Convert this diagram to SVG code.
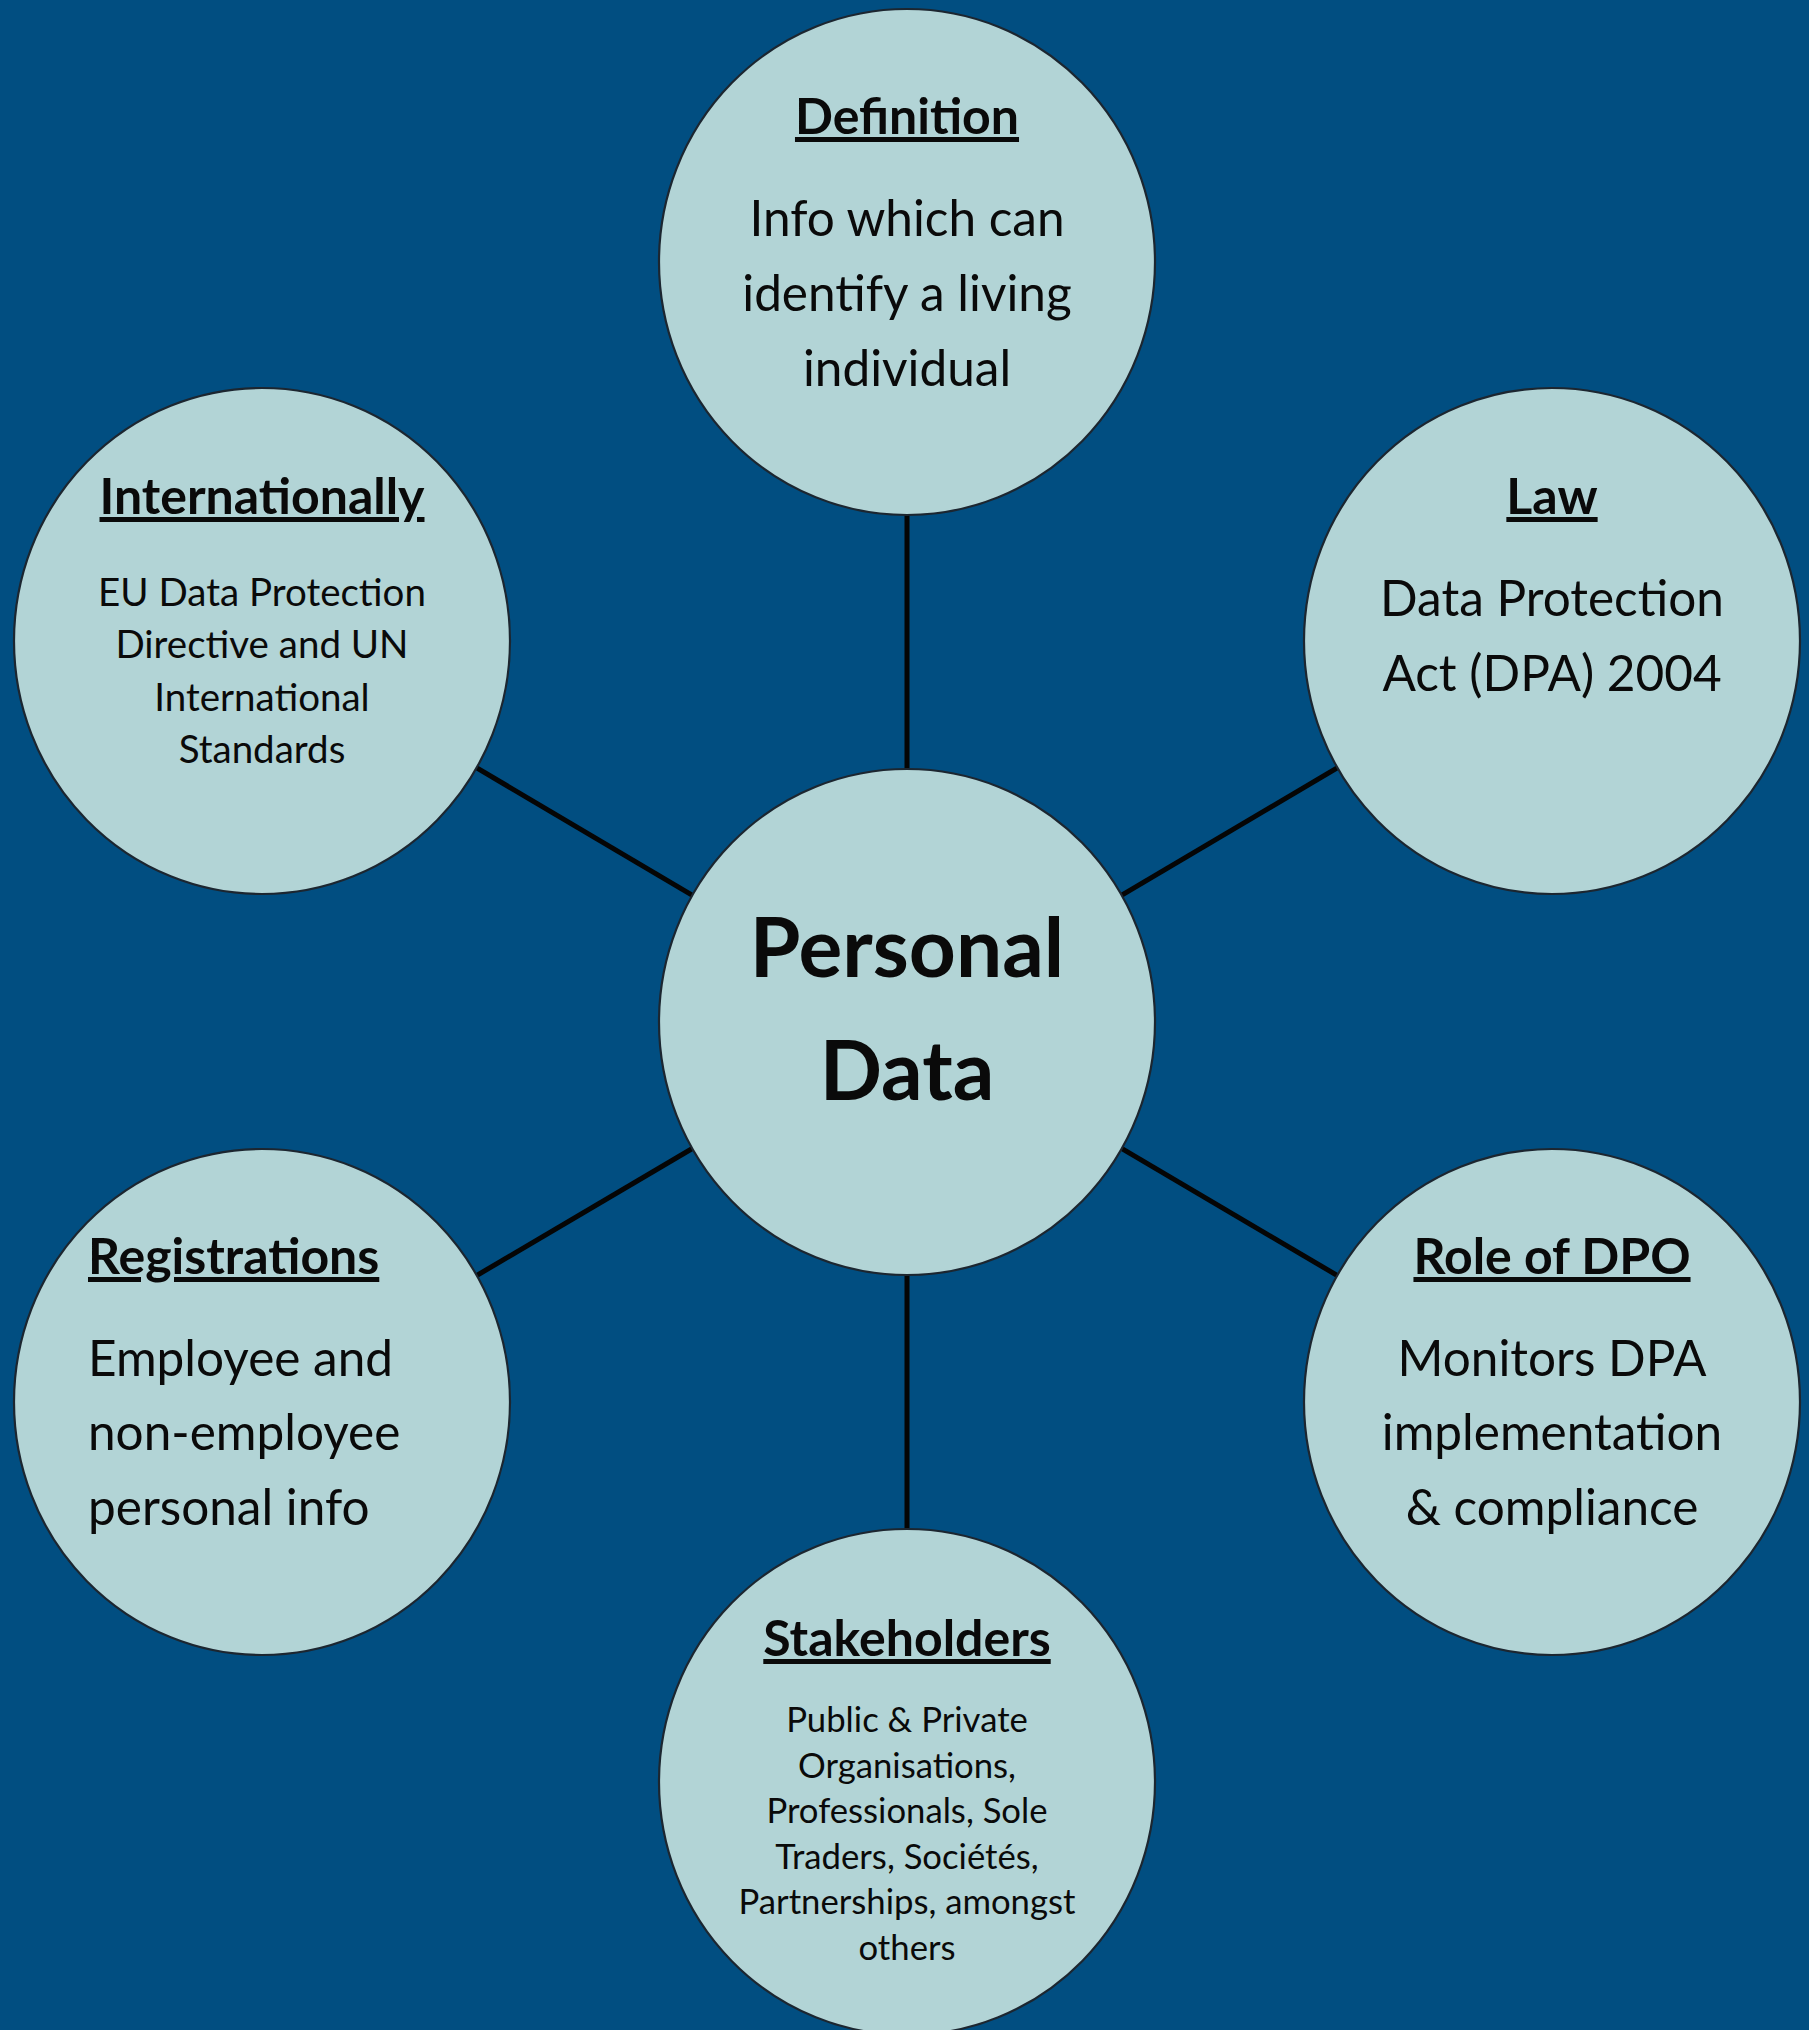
<svg xmlns="http://www.w3.org/2000/svg" width="1809" height="2030" viewBox="0 0 1809 2030">
<style>
.bg{fill:#014e81}
.node{fill:#b2d4d6;stroke:#1c2630;stroke-width:2.2}
.conn{stroke:#050505;stroke-width:5;fill:none}
text{font-family:Lato,"Open Sans","Liberation Sans",sans-serif;fill:#0a0a0a;text-anchor:middle}
.t{font-weight:700;font-size:50px;text-decoration:underline}
.b{font-size:49.5px}
.i{font-size:38.5px}
.s{font-size:34.7px}
.c{font-weight:700;font-size:82px}
.l{text-anchor:start}
</style>
<rect class="bg" x="0" y="0" width="1809" height="2030"/>
<g id="connectors">
<line class="conn" x1="907" y1="1022" x2="907" y2="262"/>
<line class="conn" x1="907" y1="1022" x2="907" y2="1782"/>
<line class="conn" x1="907" y1="1022" x2="262" y2="641"/>
<line class="conn" x1="907" y1="1022" x2="1552" y2="641"/>
<line class="conn" x1="907" y1="1022" x2="262" y2="1402"/>
<line class="conn" x1="907" y1="1022" x2="1552" y2="1402"/>
</g>
<g id="definition">
<ellipse class="node" cx="907" cy="262" rx="248" ry="253"/>
<text class="t" x="907" y="134">Definition</text>
<text class="b" x="907" y="236">Info which can</text>
<text class="b" x="907" y="311">identify a living</text>
<text class="b" x="907" y="386">individual</text>
</g>
<g id="internationally">
<ellipse class="node" cx="262" cy="641" rx="248" ry="253"/>
<text class="t" x="262" y="514">Internationally</text>
<text class="i" x="262" y="606">EU Data Protection</text>
<text class="i" x="262" y="658">Directive and UN</text>
<text class="i" x="262" y="711">International</text>
<text class="i" x="262" y="763">Standards</text>
</g>
<g id="law">
<ellipse class="node" cx="1552" cy="641" rx="248" ry="253"/>
<text class="t" x="1552" y="514">Law</text>
<text class="b" x="1552" y="616">Data Protection</text>
<text class="b" x="1552" y="691">Act (DPA) 2004</text>
</g>
<g id="personal-data">
<ellipse class="node" cx="907" cy="1022" rx="248" ry="253"/>
<text class="c" x="907" y="977">Personal</text>
<text class="c" x="907" y="1100">Data</text>
</g>
<g id="registrations">
<ellipse class="node" cx="262" cy="1402" rx="248" ry="253"/>
<text class="t l" x="88" y="1274">Registrations</text>
<text class="b l" x="88" y="1376">Employee and</text>
<text class="b l" x="88" y="1450">non-employee</text>
<text class="b l" x="88" y="1525">personal info</text>
</g>
<g id="role-of-dpo">
<ellipse class="node" cx="1552" cy="1402" rx="248" ry="253"/>
<text class="t" x="1552" y="1274">Role of DPO</text>
<text class="b" x="1552" y="1376">Monitors DPA</text>
<text class="b" x="1552" y="1450">implementation</text>
<text class="b" x="1552" y="1525">&amp; compliance</text>
</g>
<g id="stakeholders">
<ellipse class="node" cx="907" cy="1782" rx="248" ry="253"/>
<text class="t" x="907" y="1656">Stakeholders</text>
<text class="s" x="907" y="1732">Public &amp; Private</text>
<text class="s" x="907" y="1777.5">Organisations,</text>
<text class="s" x="907" y="1823">Professionals, Sole</text>
<text class="s" x="907" y="1868.5">Traders, Sociétés,</text>
<text class="s" x="907" y="1914">Partnerships, amongst</text>
<text class="s" x="907" y="1959.5">others</text>
</g>
</svg>
